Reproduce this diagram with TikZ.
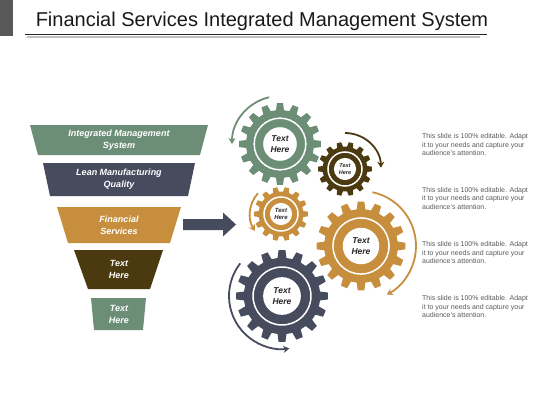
\documentclass[tikz,border=0pt]{standalone}
\usepackage{fontspec}
\setmainfont{Liberation Sans}
\usetikzlibrary{arrows.meta,positioning}

\definecolor{sage}{RGB}{108,142,118}
\definecolor{slate}{RGB}{70,75,94}
\definecolor{ochre}{RGB}{199,142,62}
\definecolor{umber}{RGB}{75,57,15}
\definecolor{ink}{RGB}{38,38,38}

% gear: name, centre, outer radius, teeth, colour, font
\newcommand{\gearwheel}[6]{%
  \begin{scope}[shift={#2}]
    \pgfmathsetmacro{\gp}{360/#4}
    \fill[#5] ({-0.3*\gp}:{0.83*#3})
      \foreach \k in {1,...,#4}{
        -- ({(\k-1)*\gp-0.19*\gp}:#3) -- ({(\k-1)*\gp+0.19*\gp}:#3)
        -- ({(\k-1)*\gp+0.3*\gp}:{0.83*#3})
        arc[start angle={(\k-1)*\gp+0.3*\gp}, end angle={\k*\gp-0.3*\gp}, radius={0.83*#3}]
      } -- cycle;
    \draw[white, line width=1.5pt] (0,0) circle[radius={0.63*#3}];
    \fill[white] (0,0) circle[radius={0.41*#3}];
    \node[gtext, font=#6] (#1) at (0,0) {Text\\Here};
  \end{scope}}

\begin{document}
\begin{tikzpicture}[
    x=1pt, y=1pt, yscale=-1,
    ftext/.style={text=white, align=center, font=\fontsize{9}{12}\selectfont\bfseries\itshape},
    gtext/.style={text=ink, align=center, inner sep=0pt},
    note/.style={text=black!65, align=left, anchor=base west, inner sep=0pt,
        font=\fontsize{7}{8.3}\selectfont},
    turn/.style={line width=1.8pt, -{Stealth[length=6pt, width=7pt]}}
]
\useasboundingbox (0,0) rectangle (560,420);

% title bar
\fill[black!65] (0,0) rectangle (13,36);
\node[anchor=base, font=\fontsize{20}{22}\selectfont, text=black!90] (title) at (262,27)
    {Financial Services Integrated Management System};
\draw[black!85, line width=0.8pt] (25,34) -- (487,34);
\draw[black!25, line width=1.2pt] (27,37) -- (480,37);

% funnel
\foreach \yt/\yb/\tl/\tr/\bl/\br/\col/\txt [count=\i] in {
    125/155/30/208/38/200/sage/{Integrated Management\\System},
    163/196/43/195/50/188/slate/{Lean Manufacturing\\Quality},
    207/243/57/181/68/170/ochre/{Financial\\Services},
    250/289/74/163/88/150/umber/{Text\\Here},
    298/330/91/146/94/143/sage/{Text\\Here}}{
  \fill[\col] (\tl,\yt) -- (\tr,\yt) -- (\br,\yb) -- (\bl,\yb) -- cycle;
  \node[ftext] (f\i) at (119,{(\yt+\yb)/2}) {\txt};
}

% block arrow
\fill[slate] (183,219) -- (223,219) -- (223,212.5) -- (236,224.5) -- (223,236.5)
    -- (223,230) -- (183,230) -- cycle;

% gears
\gearwheel{gA}{(280,144)}{41}{16}{sage}{\fontsize{8.5}{10.5}\selectfont\bfseries\itshape}
\gearwheel{gB}{(345,169)}{27}{14}{umber}{\fontsize{5.5}{6.5}\selectfont\bfseries\itshape}
\gearwheel{gC}{(281,214)}{27}{14}{ochre}{\fontsize{6}{7.5}\selectfont\bfseries\itshape}
\gearwheel{gD}{(361,246)}{44.5}{16}{ochre}{\fontsize{8.5}{10.5}\selectfont\bfseries\itshape}
\gearwheel{gE}{(282,296)}{46}{16}{slate}{\fontsize{8.5}{10.5}\selectfont\bfseries\itshape}

% turning arrows
\draw[turn, sage] (gA) ++(257:48) arc[start angle=257, end angle=180, radius=48];
\draw[turn, umber] (gB) ++(270:36) arc[start angle=270, end angle=358, radius=36];
\draw[turn, ochre] (gC) ++(222:31) arc[start angle=222, end angle=147, radius=31];
\draw[turn, ochre] (gD) ++(-78:55) arc[start angle=-78, end angle=62, radius=55];
\draw[turn, slate] (gE) ++(218:53) arc[start angle=218, end angle=82, radius=53];

% notes
\foreach \yb [count=\i] in {155.5,209,263.5,317.5}
  \node[note] (n\i) at (422,\yb) {This slide is 100\% editable. Adapt\\it to your needs and capture your\\audience's attention.};

\end{tikzpicture}
\end{document}
